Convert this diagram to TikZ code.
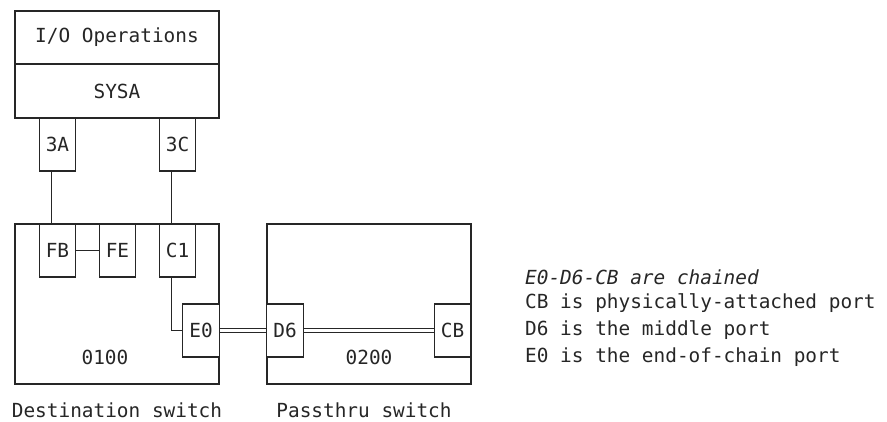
\documentclass[tikz,border=0pt]{standalone}
\usepackage{fontspec}
\setmonofont{DejaVu Sans Mono}
\begin{document}
\begin{tikzpicture}[x=1pt,y=-1pt,
  every node/.style={font=\fontsize{19.4}{22}\selectfont\ttfamily, inner sep=0pt, text=black!85},
  box/.style={draw=black!85, line width=1.1pt, fill=white},
  port/.style={box, minimum width=36.5pt, minimum height=53pt},
  wire/.style={draw=black!85, line width=1.1pt},
  dbl/.style={draw=black!85, line width=1.1pt, double=white, double distance=2.6pt}
]
\useasboundingbox (0,0) rectangle (887,421);
% host
\node[box, minimum width=204pt, minimum height=53pt] (io) at (117,37.5) {I/O Operations};
\node[box, minimum width=204pt, minimum height=54pt] (sysa) at (117,91) {SYSA};
\node[port] (a3) at (57.5,144.5) {3A};
\node[port] (c3) at (177.5,144.5) {3C};
% switches
\node[box, minimum width=204pt, minimum height=160pt] (sw1) at (117,304) {};
\node[box, minimum width=204pt, minimum height=160pt] (sw2) at (369,304) {};
\node (l1) at (105,357) {0100};
\node (l2) at (369,357) {0200};
\node[port] (fb) at (57.5,250.5) {FB};
\node[port] (fe) at (117.5,250.5) {FE};
\node[port] (c1) at (177.5,250.5) {C1};
\node[port] (e0) at (201,330.5) {E0};
\node[port] (d6) at (285,330.5) {D6};
\node[port] (cb) at (452.5,330.5) {CB};
% connectors
\draw[wire] ([xshift=-6pt]a3.south) -- ([xshift=-6pt]fb.north);
\draw[wire] ([xshift=-6pt]c3.south) -- ([xshift=-6pt]c1.north);
\draw[wire] (fb.east) -- (fe.west);
\draw[wire] ([xshift=-6pt]c1.south) |- (e0.west);
\draw[dbl] (e0.east) -- (d6.west);
\draw[dbl] (d6.east) -- (cb.west);
% captions
\node (t1) at (117,410) {Destination switch};
\node (t2) at (364,410) {Passthru switch};
\node[anchor=west] (n1) at (525,277) {\itshape E0-D6-CB are chained};
\node[anchor=west] (n2) at (525,303.5) {CB is physically-attached port};
\node[anchor=west] (n3) at (525,330.5) {D6 is the middle port};
\node[anchor=west] (n4) at (525,357) {E0 is the end-of-chain port};
\end{tikzpicture}
\end{document}
